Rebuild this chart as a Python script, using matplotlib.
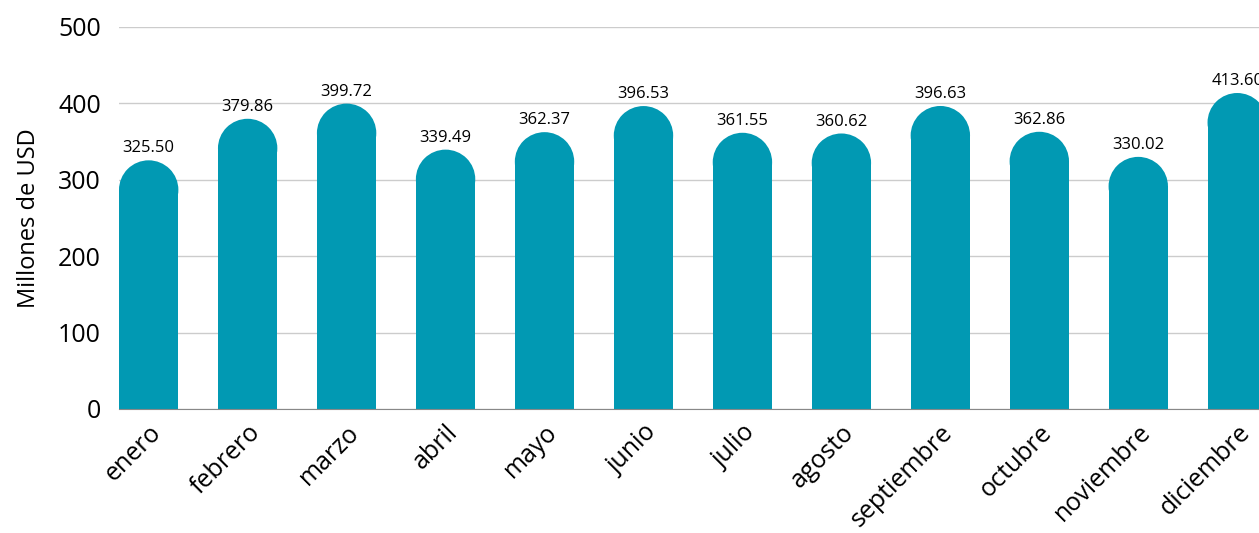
import matplotlib.pyplot as plt
from matplotlib.patches import Ellipse

plt.rcParams['font.family'] = ['Open Sans', 'DejaVu Sans']

months = ["enero", "febrero", "marzo", "abril", "mayo", "junio", "julio",
          "agosto", "septiembre", "octubre", "noviembre", "diciembre"]
values = [325.50, 379.86, 399.72, 339.49, 362.37, 396.53, 361.55,
          360.62, 396.63, 362.86, 330.02, 413.60]

COLOR = "#0199B3"
WIDTH = 0.6
CAP = 38.6  # radius of rounded top, in data units

fig = plt.figure(figsize=(12.59, 5.33), dpi=100)
ax = fig.add_axes([119 / 1259, 1 - 409 / 533, 1 - 119 / 1259, 382 / 533])

xs = list(range(len(months)))
ax.bar(xs, [v - CAP for v in values], width=WIDTH, color=COLOR, zorder=2)
for x, v in zip(xs, values):
    ax.add_patch(Ellipse((x, v - CAP), WIDTH, 2 * CAP, color=COLOR, zorder=2, lw=0))
    ax.text(x, v + 5, f"{v:.2f}", ha="center", va="bottom", fontsize=12, zorder=3)

ax.set_xlim(-0.3, 11.22)
ax.set_ylim(0, 500)
ax.set_yticks(range(0, 501, 100))
ax.set_xticks(xs)
ax.set_xticklabels(months, rotation=45, ha="right", rotation_mode="anchor", fontsize=18)
ax.tick_params(axis="y", labelsize=18, length=0, pad=13)
ax.tick_params(axis="x", length=0, pad=8)
ax.grid(axis="y", color="#cccccc", linewidth=1, zorder=0)
for s in ["top", "right", "left"]:
    ax.spines[s].set_visible(False)
ax.spines["bottom"].set_color("#888888")
ax.spines["bottom"].set_zorder(3)
ax.set_ylabel("Millones de USD", fontsize=17, labelpad=12)

fig.savefig("out.png", dpi=100)
